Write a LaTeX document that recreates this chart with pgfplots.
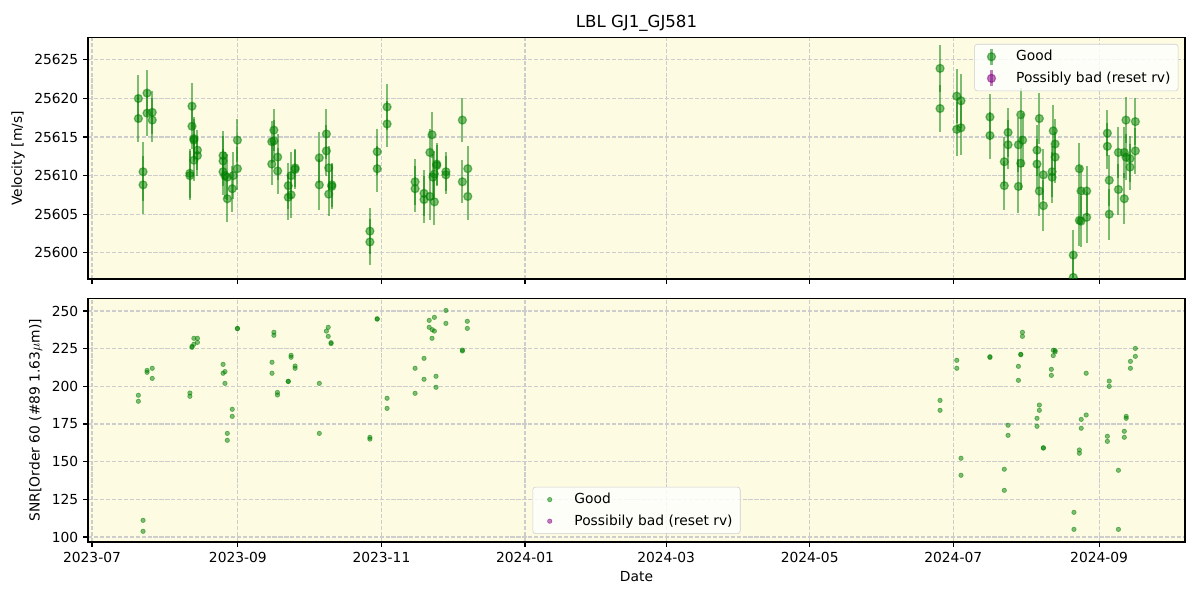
\documentclass[border=0pt]{standalone}
\usepackage{fontspec}
\setmainfont{DejaVu Sans}
\usepackage{pgfplots}
\usepackage{pgfplotstable}
\pgfplotsset{compat=1.18}

\definecolor{mplgreen}{RGB}{0,128,0}
\definecolor{mplpurple}{RGB}{128,0,128}
\definecolor{panelbg}{RGB}{253,252,227}
\definecolor{gridgray}{RGB}{205,205,205}

% days since 2023-07-01, velocity [m/s], error
\pgfplotstableread{
day vel err
19.7 25620.0 3.0
19.7 25617.4 3.0
21.7 25610.5 3.8
21.7 25608.8 3.8
23.4 25620.7 3.0
23.4 25618.1 3.0
25.6 25618.2 2.8
25.6 25617.2 2.8
41.6 25610.3 3.2
41.6 25610.0 3.2
42.5 25619.0 3.0
42.5 25616.4 3.0
43.3 25614.8 2.8
43.3 25614.6 2.8
43.3 25612.0 2.7
44.8 25613.3 2.6
44.8 25612.6 2.6
55.7 25611.9 3.2
55.7 25612.6 3.2
55.7 25610.5 3.0
56.5 25610.0 3.0
57.5 25609.8 3.0
57.5 25607.0 3.0
59.6 25608.3 3.0
60.0 25610.0 3.0
61.8 25614.6 2.8
61.8 25610.9 2.8
76.4 25614.4 2.7
76.4 25611.5 2.7
77.3 25615.9 2.7
77.3 25614.5 2.7
78.9 25612.4 3.0
78.9 25610.6 3.0
83.4 25608.7 3.0
83.4 25607.2 3.0
84.6 25610.0 3.0
84.6 25607.5 3.0
86.3 25611.0 2.5
86.3 25610.8 2.5
96.6 25612.3 3.3
96.6 25608.8 3.3
99.6 25615.4 3.3
99.6 25613.2 3.3
100.6 25611.0 2.9
100.6 25607.6 2.9
101.9 25608.8 2.9
101.9 25608.6 2.9
118.1 25602.8 3.0
118.1 25601.4 3.0
121.2 25613.1 3.0
121.2 25610.9 3.0
125.4 25618.9 3.0
125.4 25616.7 3.0
137.3 25609.2 3.0
137.3 25608.3 3.0
141.1 25607.7 3.0
141.1 25606.9 3.0
143.6 25607.3 3.0
143.6 25613.0 3.0
144.5 25615.3 3.0
145.5 25606.6 3.0
144.9 25609.8 3.0
145.5 25610.2 3.0
146.5 25611.5 2.7
146.5 25611.3 2.7
150.4 25610.5 2.5
150.4 25610.1 2.5
157.4 25617.2 2.8
157.4 25609.2 2.8
159.7 25610.9 3.0
159.7 25607.3 3.0
360.4 25623.9 3.0
360.4 25618.7 3.0
367.5 25620.3 3.5
367.5 25616.0 3.5
369.3 25619.7 3.5
369.3 25616.2 3.5
381.6 25617.6 3.0
381.6 25615.2 3.0
387.7 25611.8 3.2
387.7 25608.7 3.2
389.3 25615.6 3.2
389.3 25614.0 3.2
393.7 25614.0 3.5
393.7 25608.6 3.5
394.7 25617.9 3.5
395.5 25614.6 3.5
394.7 25611.6 3.5
401.6 25613.3 3.3
401.6 25611.5 3.3
402.6 25617.4 3.3
402.6 25608.0 3.3
404.3 25610.1 3.3
404.3 25606.1 3.3
408.0 25610.5 3.3
408.0 25609.8 3.3
408.5 25615.8 3.3
409.3 25614.1 3.3
409.3 25612.4 3.3
417.0 25599.7 3.3
417.0 25596.8 3.3
419.6 25610.9 3.3
419.6 25604.2 3.3
420.3 25608.0 3.3
420.3 25604.1 3.3
422.7 25608.0 3.3
422.7 25604.6 3.3
431.5 25615.5 3.0
431.5 25613.8 3.0
432.3 25609.4 3.3
432.3 25605.0 3.3
436.2 25613.0 3.3
436.2 25608.2 3.3
438.7 25613.0 3.3
438.7 25607.0 3.3
439.4 25617.2 3.0
439.4 25612.4 3.0
441.1 25612.2 3.0
441.1 25611.1 3.0
443.4 25617.0 3.0
443.4 25613.2 3.0
}\veltable

% days since 2023-07-01, SNR
\pgfplotstableread{
day snr
19.7 194.1
19.7 190.1
21.7 111.1
21.7 103.8
23.4 210.6
23.4 209.3
25.6 212.0
25.6 205.3
41.6 195.6
41.6 193.4
42.5 225.9
42.5 226.5
43.3 231.9
43.3 228.0
44.8 231.9
44.8 229.2
55.7 214.6
55.7 208.7
56.5 209.8
56.5 202.0
57.5 168.8
57.5 164.2
59.6 184.8
59.6 180.1
61.8 238.5
61.8 238.3
76.5 216.0
76.5 208.7
77.3 235.9
77.3 233.9
78.8 196.0
78.8 194.3
83.4 203.4
83.4 203.2
84.6 220.6
84.6 219.3
86.3 213.5
86.3 212.0
96.6 202.0
96.6 168.8
99.6 236.7
100.4 239.2
100.4 233.2
101.6 229.0
101.6 228.4
118.1 166.2
118.1 165.0
121.2 244.9
121.2 244.6
125.4 192.1
125.4 185.4
137.3 212.0
137.3 195.4
141.1 218.6
141.1 204.7
143.3 243.8
143.3 239.2
144.6 237.6
144.5 231.9
145.5 236.7
145.5 245.8
146.2 206.7
146.2 199.4
150.4 250.4
150.4 241.8
157.4 224.1
157.4 223.5
159.5 243.2
159.5 238.5
360.4 190.7
360.4 184.1
367.5 217.3
367.5 212.0
369.3 152.3
369.3 141.0
381.6 219.7
381.6 219.2
387.7 145.0
387.7 131.0
389.3 174.2
389.3 167.5
393.7 213.3
393.7 204.0
394.7 221.3
394.7 221.0
395.4 235.9
395.4 233.2
401.6 178.8
401.6 173.5
402.6 187.6
402.6 184.1
404.3 159.3
404.3 159.0
407.7 211.3
407.7 207.3
408.5 224.0
409.3 222.9
408.5 220.4
409.3 223.8
417.3 116.4
417.3 105.1
419.6 157.8
419.6 155.6
420.4 178.1
420.4 172.2
422.5 208.7
422.5 181.0
431.5 166.9
431.5 163.5
432.3 203.5
432.3 200.0
436.2 144.3
436.2 105.1
438.7 170.2
438.7 166.2
439.5 180.1
439.5 178.8
441.3 216.6
441.3 212.0
443.4 225.2
443.4 219.9
}\snrtable

\pgfplotsset{
  lblaxis/.style={
    scale only axis,
    width=792.8pt,
    xmin=-1.7, xmax=464.5,
    axis background/.style={fill=panelbg},
    grid=major,
    grid style={gridgray, dash pattern=on 3pt off 1.3pt, line width=0.8pt},
    tick align=outside,
    xtick pos=left, ytick pos=left,
    major tick length=3.5pt,
    every tick/.style={black, line width=0.8pt},
    axis line style={line width=0.8pt},
    xtick={0,62,123,184,244,305,366,428},
    ticklabel style={font=\fontsize{10}{12}\selectfont},
    label style={font=\fontsize{10}{12}\selectfont},
    scaled y ticks=false,
    clip marker paths=true,
    /pgf/number format/assume math mode=true,
    /pgf/number format/1000 sep={},
    legend cell align=left,
    legend style={draw=gridgray, rounded corners=2pt, fill=white,
      fill opacity=0.8, text opacity=1,
      font=\fontsize{10}{12}\selectfont,
      inner xsep=3.5pt, inner ysep=2.5pt, row sep=2.5pt},
  },
}

\begin{document}
\begin{tikzpicture}
\path[use as bounding box] (0,0) rectangle (867.24pt,433.62pt);

\begin{axis}[lblaxis,
  at={(63.6pt,406.2pt)}, anchor=north west,
  height=174.2pt,
  ymin=25596.6, ymax=25627.85,
  ytick={25600,25605,...,25625},
  xticklabels={,,,,,,,},
  ylabel={Velocity [m/s]},
  title={LBL GJ1\_GJ581},
  title style={font=\fontsize{12}{14}\selectfont, yshift=-4.5pt},
  legend style={at={(0.994,0.975)}, anchor=north east},
]
\addlegendimage{legend image code/.code={
  \path (0cm,0cm) (0.85cm,0cm);
  \draw[mplgreen, draw opacity=0.5, line width=1.5pt] (0.3cm,-0.2cm) -- (0.3cm,0.2cm);
  \filldraw[mplgreen, fill opacity=0.5, draw opacity=0.5, line width=0.9pt] (0.3cm,0cm) circle (2.9pt);}}
\addlegendentry{Good}
\addlegendimage{legend image code/.code={
  \path (0cm,0cm) (0.85cm,0cm);
  \draw[mplpurple, draw opacity=0.5, line width=1.5pt] (0.3cm,-0.2cm) -- (0.3cm,0.2cm);
  \filldraw[mplpurple, fill opacity=0.5, draw opacity=0.5, line width=0.9pt] (0.3cm,0cm) circle (2.9pt);}}
\addlegendentry{Possibly bad (reset rv)}

\addplot[forget plot, only marks, mark=*, mark size=2.9pt,
  mark options={draw=mplgreen, fill=mplgreen, opacity=0.5, line width=0.9pt},
  error bars/.cd, y dir=both, y explicit, error mark=none,
  error bar style={mplgreen, opacity=0.5, line width=1.5pt}]
  table[x=day, y=vel, y error=err] {\veltable};
\end{axis}

\begin{axis}[lblaxis,
  at={(63.6pt,41.9pt)}, anchor=south west,
  height=176.3pt,
  ymin=96.7, ymax=258.6,
  ytick={100,125,...,250},
  xticklabels={2023-07,2023-09,2023-11,2024-01,2024-03,2024-05,2024-07,2024-09},
  xlabel={Date},
  ylabel={SNR[Order 60 (\#89 1.63$\mu$m)]},
  legend style={at={(0.5,0.033)}, anchor=south},
]
\addlegendimage{legend image code/.code={
  \path (0cm,0cm) (0.85cm,0cm);
  \filldraw[mplgreen, fill opacity=0.5, draw opacity=0.5, line width=0.5pt] (0.3cm,0cm) circle (1.6pt);}}
\addlegendentry{Good}
\addlegendimage{legend image code/.code={
  \path (0cm,0cm) (0.85cm,0cm);
  \filldraw[mplpurple, fill opacity=0.5, draw opacity=0.5, line width=0.5pt] (0.3cm,0cm) circle (1.6pt);}}
\addlegendentry{Possibily bad (reset rv)}

\addplot[forget plot, only marks, mark=*, mark size=1.6pt,
  mark options={draw=mplgreen, fill=mplgreen, opacity=0.5, line width=0.5pt}]
  table[x=day, y=snr] {\snrtable};
\end{axis}
\end{tikzpicture}
\end{document}
